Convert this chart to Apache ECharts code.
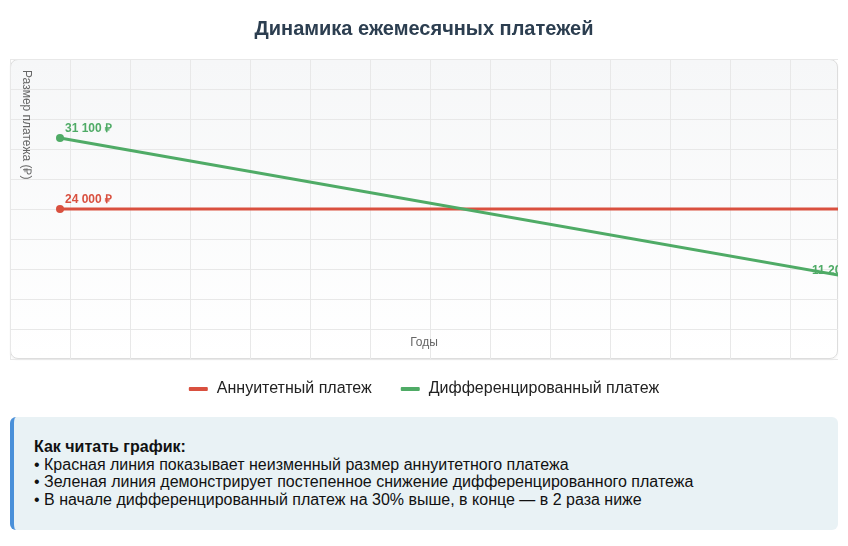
<!DOCTYPE html>
<html>
<head>
<meta charset="utf-8">
<script src="https://cdn.jsdelivr.net/npm/echarts@6/dist/echarts.min.js"></script>
<style>
    body { margin: 0; background: #fff; font-family: Arial, "Liberation Sans", sans-serif; }
    #wrap { position: absolute; left: 10px; top: 0; width: 828px; height: 410px; }
    #box {
        position: absolute; left: 0; top: 59px; width: 826px; height: 298px;
        border: 1px solid #dddddd; border-radius: 8px;
        background: linear-gradient(#f6f7f8, #ffffff);
        box-shadow: 0 1px 2px rgba(0, 0, 0, 0.06);
    }
    #chart { position: absolute; left: 0; top: 0; width: 828px; height: 410px; }
    #info {
        position: absolute; left: 10px; top: 417px; width: 828px; height: 113px;
        box-sizing: border-box; padding: 21px 0 0 20px;
        background: #e9f2f5; border-left: 4px solid #4a90d9; border-radius: 6px;
        font-size: 16px; line-height: 17.5px; color: #111;
    }
</style>
</head>
<body>
<div id="wrap">
    <div id="box"></div>
    <div id="chart"></div>
</div>
<div id="info">
    <strong>Как читать график:</strong><br>
    • Красная линия показывает неизменный размер аннуитетного платежа<br>
    • Зеленая линия демонстрирует постепенное снижение дифференцированного платежа<br>
    • В начале дифференцированный платеж на 30% выше, в конце — в 2 раза ниже
</div>
<script>
    // данные
    const years = [1, 20];
    const annuity = [24000, 24000];
    const differentiated = [31100, 11200];
    const seriesNames = ['Аннуитетный платеж', 'Дифференцированный платеж'];

    const RED = '#d9503f';
    const GREEN = '#4fab66';
    const FONT = 'Arial, "Liberation Sans", sans-serif';

    // видимая часть оси лет (график обрезан справа)
    const pxPerYear = 59.5;
    const xMin = 1 - 50 / pxPerYear;
    const xMax = xMin + 828 / pxPerYear;

    const fmt = (v) => String(v).replace(/\B(?=(\d{3})+(?!\d))/g, ' ') + ' ₽';

    // значение зелёной линии у правого края
    const last = years.length - 1;
    const edgeX = xMax - 0.001;
    const edgeVal = differentiated[0] + (differentiated[last] - differentiated[0]) * (edgeX - years[0]) / (years[last] - years[0]);

    const pointLabel = (color) => ({
        show: true,
        position: 'right',
        distance: 1,
        offset: [0, -9],
        color: color,
        fontSize: 12,
        fontWeight: 'bold',
        formatter: (p) => p.dataIndex === 0 ? fmt(p.value[1]) : ''
    });

    const chart = echarts.init(document.getElementById('chart'));
    chart.setOption({
        animation: false,
        textStyle: { fontFamily: FONT },
        title: {
            text: 'Динамика ежемесячных платежей',
            left: 'center', top: 14,
            textStyle: { fontSize: 20, fontWeight: 'bold', color: '#2c3e50', fontFamily: FONT }
        },
        legend: {
            data: seriesNames,
            bottom: 8,
            icon: 'roundRect',
            itemWidth: 19, itemHeight: 4, itemGap: 29,
            textStyle: { fontSize: 16, color: '#222', padding: [0, 0, 0, 4] }
        },
        grid: { left: 0, right: 0, top: 59, height: 300 },
        xAxis: [
            {
                type: 'value', min: xMin, max: xMax,
                name: 'Годы', nameLocation: 'middle', nameGap: -16,
                nameTextStyle: { color: '#666', fontSize: 12, verticalAlign: 'middle' },
                axisLine: { show: false }, axisTick: { show: false }, axisLabel: { show: false },
                splitLine: { show: false }
            },
            {
                type: 'value', min: 0, max: 13.8, interval: 1,
                axisLine: { show: false }, axisTick: { show: false }, axisLabel: { show: false },
                splitLine: { show: true, lineStyle: { color: '#e8e8e8', width: 1 } }
            }
        ],
        yAxis: {
            type: 'value', min: 9000, max: 39000, interval: 3000,
            offset: -16,
            name: 'Размер платежа (₽)', nameLocation: 'end', nameGap: -11, nameRotate: -90,
            nameTextStyle: { color: '#666', fontSize: 12, align: 'left', verticalAlign: 'middle' },
            axisLine: { show: false }, axisTick: { show: false }, axisLabel: { show: false },
            splitLine: { show: true, lineStyle: { color: '#e8e8e8', width: 1 } }
        },
        series: [
            {
                name: seriesNames[0], type: 'line', xAxisIndex: 0,
                data: years.map((y, i) => [y, annuity[i]]),
                symbol: 'circle', symbolSize: 8,
                itemStyle: { color: RED },
                lineStyle: { color: RED, width: 3 },
                label: pointLabel(RED)
            },
            {
                name: seriesNames[1], type: 'line', xAxisIndex: 0,
                data: years.map((y, i) => [y, differentiated[i]]),
                symbol: 'circle', symbolSize: 8,
                itemStyle: { color: GREEN },
                lineStyle: { color: GREEN, width: 3 },
                label: pointLabel(GREEN),
                markPoint: {
                    symbol: 'circle', symbolSize: 1,
                    itemStyle: { color: 'rgba(0,0,0,0)' },
                    label: {
                        show: true, position: 'inside', align: 'left', verticalAlign: 'middle',
                        offset: [-26, -4], color: GREEN, fontSize: 12, fontWeight: 'bold',
                        formatter: () => fmt(differentiated[last])
                    },
                    data: [{ coord: [edgeX, edgeVal] }]
                }
            }
        ]
    });

    window.addEventListener('resize', () => chart.resize());
</script>
</body>
</html>
